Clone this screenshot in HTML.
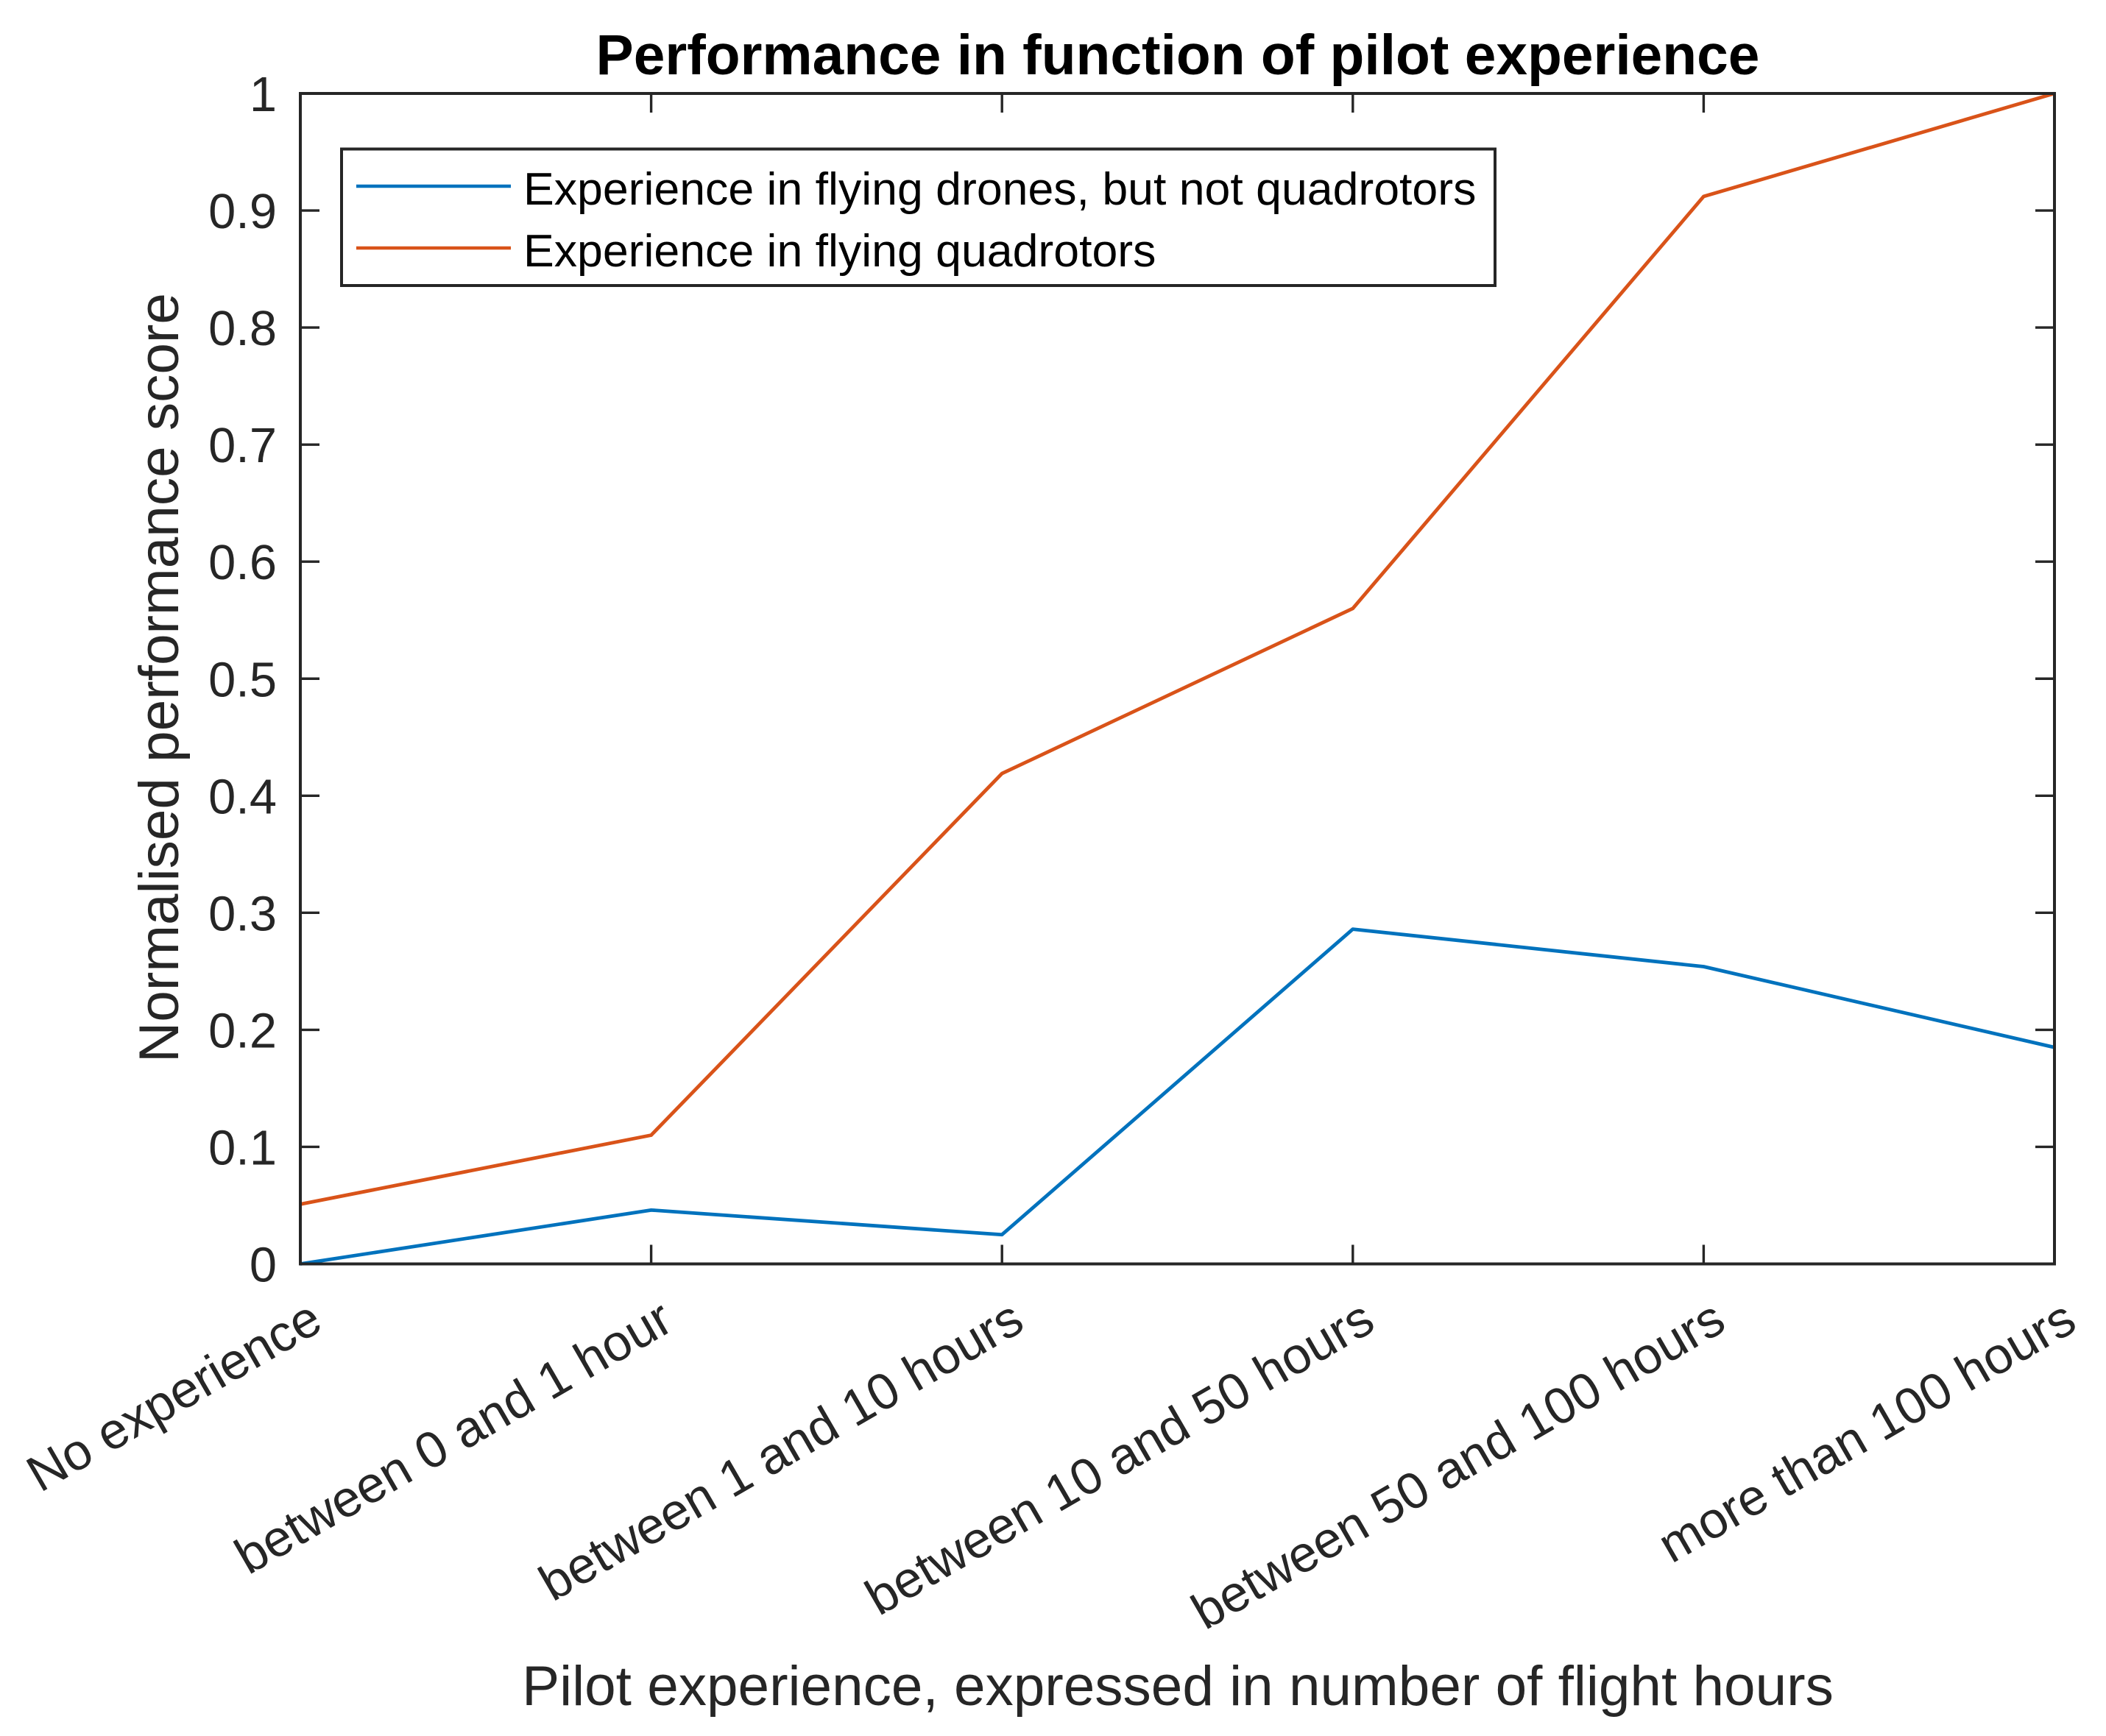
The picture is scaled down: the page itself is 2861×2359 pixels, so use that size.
<!DOCTYPE html>
<html lang="en">
<head>
<meta charset="utf-8">
<title>Performance in function of pilot experience</title>
<style>
html,body{margin:0;padding:0;background:#fff;}
svg{display:block;font-family:"Liberation Sans",sans-serif;}
</style>
</head>
<body>
<svg id="chart" xmlns="http://www.w3.org/2000/svg" width="2861" height="2359" viewBox="0 0 2861 2359">
  <rect x="0" y="0" width="2861" height="2359" fill="#ffffff"/>
  <text x="1600" y="101" text-anchor="middle" font-size="76.7" font-weight="bold" fill="#000">Performance in function of pilot experience</text>
  <text transform="translate(242 921) rotate(-90)" text-anchor="middle" font-size="76.5" fill="#262626">Normalised performance score</text>
  <text x="1600" y="2317" text-anchor="middle" font-size="76.5" fill="#262626">Pilot experience, expressed in number of flight hours</text>
  <g id="ticks"></g>
  <g id="y-labels"></g>
  <g id="x-labels"></g>
  <g id="series"></g>
  <rect x="408" y="127" width="2383" height="1590.5" fill="none" stroke="#262626" stroke-width="4"/>
  <g>
    <rect x="464" y="202.5" width="1567" height="185.5" fill="#fff" stroke="#262626" stroke-width="4"/>
    <line x1="484" y1="253" x2="694" y2="253" stroke="#0072bd" stroke-width="4.5"/>
    <text x="711" y="278" font-size="62.6" fill="#000">Experience in flying drones, but not quadrotors</text>
    <line x1="484" y1="337" x2="694" y2="337" stroke="#d95319" stroke-width="4.5"/>
    <text x="711" y="362" font-size="62.6" fill="#000">Experience in flying quadrotors</text>
  </g>
</svg>
<script>
const categories = ["No experience", "between 0 and 1 hour", "between 1 and 10 hours", "between 10 and 50 hours", "between 50 and 100 hours", "more than 100 hours"];
const dronesValues = [0, 0.046, 0.025, 0.286, 0.254, 0.185];
const quadrotorValues = [0.051, 0.11, 0.419, 0.56, 0.912, 1];
const yTicks = [0, 0.1, 0.2, 0.3, 0.4, 0.5, 0.6, 0.7, 0.8, 0.9, 1];

const NS = "http://www.w3.org/2000/svg";
const plot = { left: 408, right: 2791, top: 127, bottom: 1717.5 };
function xScale(i) { return plot.left + (plot.right - plot.left) * i / (categories.length - 1); }
function yScale(v) { return plot.bottom - (plot.bottom - plot.top) * v; }
function make(tag, attrs, parent) {
  const el = document.createElementNS(NS, tag);
  for (const k in attrs) el.setAttribute(k, attrs[k]);
  parent.appendChild(el);
  return el;
}
const ticksG = document.getElementById("ticks");
const yLabelsG = document.getElementById("y-labels");
const xLabelsG = document.getElementById("x-labels");
const seriesG = document.getElementById("series");
const tickStyle = { stroke: "#262626", "stroke-width": 3.4 };
const TICK = 26;

yTicks.forEach(function (v) {
  const y = yScale(v);
  const left = make("line", Object.assign({ x1: plot.left, x2: plot.left + TICK, y1: y, y2: y }, tickStyle), ticksG);
  
  
  const right = make("line", Object.assign({ x1: plot.right - TICK, x2: plot.right, y1: y, y2: y }, tickStyle), ticksG);
  
  
  const label = make("text", { x: 376, y: y + 24, "text-anchor": "end", "font-size": 66.8, fill: "#262626" }, yLabelsG);
  label.textContent = String(v);
  
  
});

categories.forEach(function (c, i) {
  const x = xScale(i);
  const bottom = make("line", Object.assign({ x1: x, x2: x, y1: plot.bottom, y2: plot.bottom - TICK }, tickStyle), ticksG);
  
  
  const top = make("line", Object.assign({ x1: x, x2: x, y1: plot.top, y2: plot.top + TICK }, tickStyle), ticksG);
  
  
  const label = make("text", { transform: "translate(" + (x + 33.5) + " " + (plot.bottom + 88) + ") rotate(-30)", "text-anchor": "end", "font-size": 69.3, fill: "#262626" }, xLabelsG);
  label.textContent = c;
  
  
});

function pointsFor(values) {
  return values.map(function (v, i) { return xScale(i) + "," + yScale(v); }).join(" ");
}
const dronesLine = make("polyline", { points: pointsFor(dronesValues), fill: "none", stroke: "#0072bd", "stroke-width": 4.8, "stroke-linejoin": "round" }, seriesG);


const quadLine = make("polyline", { points: pointsFor(quadrotorValues), fill: "none", stroke: "#d95319", "stroke-width": 4.8, "stroke-linejoin": "round" }, seriesG);


</script>
</body>
</html>
